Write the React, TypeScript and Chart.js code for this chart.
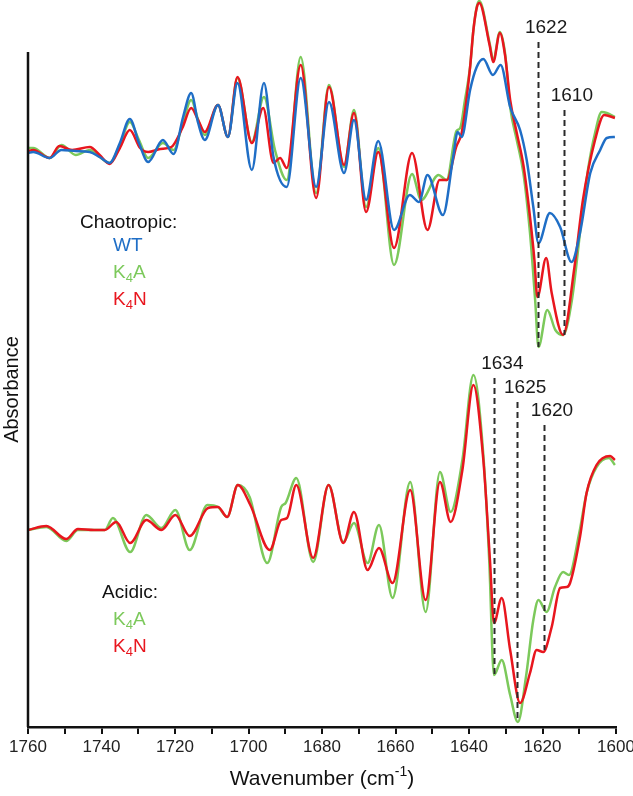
import React, { useEffect, useRef } from "react";
import { Chart, registerables } from "chart.js";

Chart.register(...registerables);

// ---------- Chaotropic (upper spectra) ----------
const wtWn = [1760, 1758.6, 1754.1, 1750.9, 1747, 1743.2, 1740.5, 1737.8, 1735, 1732.3, 1729.8, 1727.3, 1723.3, 1720.4, 1717.8, 1715.6, 1713.7, 1711.9, 1708.3, 1705.6, 1703, 1699.1, 1695.8, 1693.2, 1689.6, 1685.8, 1681.6, 1678.1, 1674, 1671.3, 1668, 1664.7, 1660.4, 1656.1, 1653.6, 1651.3, 1647.1, 1644.3, 1643.1, 1642, 1639.7, 1637.9, 1636.1, 1633.5, 1631.4, 1628.8, 1626.1, 1624.3, 1622.5, 1621.1, 1618, 1615.2, 1612.1, 1609.8, 1607, 1604.3, 1602.5, 1600.3];
const wtAbs = [574, 575, 569, 577, 576, 575, 570, 564, 584, 608, 584, 565, 587, 573, 610, 634, 604, 587, 622, 590, 644, 557, 644, 570, 540, 649, 540, 625, 554, 607, 527, 586, 497, 532, 525, 552, 512, 570, 595, 590, 637, 660, 668, 652, 662, 620, 597, 567, 520, 484, 514, 500, 465, 494, 554, 577, 589, 590];

const chaoK4AWn = [1760, 1758.6, 1754.1, 1750.9, 1747, 1743.2, 1740.5, 1737.8, 1735, 1732.3, 1729.8, 1727.3, 1723.3, 1720.4, 1717.8, 1715.6, 1713.7, 1711.9, 1708.3, 1705.6, 1703, 1699.1, 1695.8, 1692.8, 1689.6, 1685.8, 1681.6, 1678.1, 1674, 1671.3, 1668, 1664.7, 1660.4, 1655.5, 1653, 1648.3, 1646.1, 1643.4, 1642.4, 1641.1, 1639.7, 1638.8, 1637.9, 1637.2, 1634.4, 1633.4, 1631.6, 1630.2, 1628.8, 1627, 1625.2, 1623.4, 1622, 1621.1, 1618.7, 1616.5, 1614.4, 1612, 1609.3, 1607.5, 1605.7, 1603.9, 1602.5, 1600.3];
const chaoK4AAbs = [579, 579, 569, 582, 572, 577, 570, 564, 582, 605, 587, 569, 584, 577, 605, 627, 607, 592, 622, 590, 649, 585, 630, 577, 547, 670, 534, 642, 560, 617, 520, 579, 462, 553, 527, 552, 547, 596, 599, 627, 660, 697, 720, 726, 684, 667, 695, 674, 620, 587, 554, 494, 427, 380, 417, 397, 392, 427, 510, 560, 594, 615, 614, 610];

const chaoK4NWn = [1760, 1758.6, 1754.1, 1751.5, 1748, 1743.2, 1740.5, 1737.8, 1735, 1732.3, 1729.5, 1727.3, 1724, 1721, 1718, 1715.6, 1713.7, 1711.9, 1708.3, 1705.6, 1703, 1699.1, 1696, 1693.2, 1691.4, 1689.6, 1685.8, 1681.6, 1678.1, 1674, 1671.3, 1668, 1664.7, 1660.4, 1655.5, 1651.3, 1648, 1646, 1643.5, 1642, 1640.7, 1639.7, 1638.8, 1637.9, 1637.2, 1634.4, 1633.4, 1631.6, 1630.2, 1628.8, 1627, 1625.2, 1623.4, 1622.2, 1621.4, 1619, 1617.5, 1614.4, 1611.3, 1609, 1605.7, 1603.2, 1600.3];
const chaoK4NAbs = [576, 577, 569, 581, 577, 580, 572, 563, 579, 597, 579, 575, 578, 580, 599, 619, 607, 595, 622, 590, 650, 584, 619, 564, 569, 559, 662, 529, 640, 562, 614, 515, 575, 479, 574, 497, 547, 547, 580, 594, 627, 660, 697, 719, 724, 682, 665, 694, 672, 627, 594, 562, 510, 467, 430, 469, 434, 392, 460, 527, 587, 612, 609];

// ---------- Acidic (lower spectra) ----------
const acidK4AWn = [1760, 1755, 1749.6, 1746.4, 1739.1, 1736.9, 1732.2, 1727.8, 1723.7, 1719.9, 1716, 1711.2, 1708.3, 1705.8, 1702.9, 1699.7, 1694.9, 1691.1, 1689.9, 1687, 1682.4, 1678.2, 1674.2, 1671.3, 1667.6, 1664.5, 1660.8, 1656, 1651.8, 1647.9, 1645, 1641.8, 1638.8, 1636.1, 1634.5, 1633.2, 1631.1, 1628.8, 1626.7, 1624.5, 1622.5, 1621.1, 1618.9, 1616.6, 1614.4, 1612.8, 1610, 1608, 1605.3, 1601.9, 1600.3];
const acidK4AAbs = [197, 200, 186, 197, 197, 209, 175, 212, 199, 217, 177, 222, 220, 210, 242, 230, 164, 220, 224, 249, 165, 242, 185, 204, 164, 202, 129, 245, 115, 255, 215, 267, 352, 272, 167, 52, 67, 32, 5, 50, 107, 127, 115, 140, 155, 152, 194, 234, 260, 269, 262];

const acidK4NWn = [1760, 1755, 1749.6, 1746.4, 1742, 1739.1, 1736, 1732.2, 1727.8, 1723.7, 1719.9, 1716, 1711, 1708.3, 1705.8, 1702.9, 1699.5, 1694.2, 1691.1, 1689.5, 1687, 1682.4, 1678.2, 1674.2, 1671.3, 1667.6, 1664.5, 1660.8, 1656, 1651.8, 1647.9, 1645, 1641.8, 1638.8, 1636.1, 1634.3, 1633.2, 1631.1, 1628.8, 1626.1, 1623.4, 1621.6, 1619.8, 1617.5, 1615.2, 1613.4, 1612.5, 1609.8, 1608, 1605.3, 1601.6, 1600.3];
const acidK4NAbs = [197, 201, 188, 198, 197, 197, 205, 184, 207, 197, 212, 191, 219, 220, 210, 242, 222, 177, 207, 209, 242, 169, 242, 184, 215, 157, 179, 144, 237, 127, 245, 205, 257, 342, 267, 167, 104, 129, 77, 24, 54, 77, 75, 100, 139, 140, 144, 190, 234, 262, 271, 267];

// ---------- Axis / annotations ----------
const xTickValues = [1760, 1750, 1740, 1730, 1720, 1710, 1700, 1690, 1680, 1670, 1660, 1650, 1640, 1630, 1620, 1610, 1600];
const xLabelValues = [1760, 1740, 1720, 1700, 1680, 1660, 1640, 1620, 1600];

const markerLabels = ["1622", "1610", "1634", "1625", "1620"];
const markerWn = [1621.2, 1614.2, 1633.1, 1626.9, 1619.6];
const markerTop = [685, 617, 349, 325, 302];
const markerBottom = [380, 392, 52, 5, 77];

const chaoLegendTitle = "Chaotropic:";
const chaoLegendNames = ["WT", "K_4A", "K_4N"];
const acidLegendTitle = "Acidic:";
const acidLegendNames = ["K_4A", "K_4N"];

const BLUE = "#1f6ec6";
const GREEN = "#7cc95b";
const RED = "#e8161e";
const FONT = "'Liberation Sans', Arial, sans-serif";

const pts = (wn: number[], ab: number[]) => wn.map((x, i) => ({ x, y: ab[i] }));

function drawSubText(ctx: CanvasRenderingContext2D, text: string, x: number, y: number, size: number, color: string) {
  ctx.save();
  ctx.fillStyle = color;
  ctx.textBaseline = "middle";
  ctx.textAlign = "left";
  let cx = x;
  for (let i = 0; i < text.length; i++) {
    const ch = text[i];
    if (ch === "_" && i + 1 < text.length) {
      const sub = text[i + 1];
      ctx.font = `${Math.round(size * 0.68)}px ${FONT}`;
      ctx.fillText(sub, cx, y + size * 0.3);
      cx += ctx.measureText(sub).width;
      i++;
    } else {
      ctx.font = `${size}px ${FONT}`;
      ctx.fillText(ch, cx, y);
      cx += ctx.measureText(ch).width;
    }
  }
  ctx.restore();
}

const annotationPlugin = {
  id: "ftirAnnotations",
  afterDatasetsDraw(chart: any) {
    const { ctx, chartArea, scales } = chart;
    const xs = scales.x;
    const ys = scales.y;
    // dashed marker lines
    ctx.save();
    ctx.strokeStyle = "#2a2a2a";
    ctx.lineWidth = 2;
    ctx.setLineDash([6, 4]);
    markerWn.forEach((wn, i) => {
      const px = Math.round(xs.getPixelForValue(wn)) + 0.5;
      ctx.beginPath();
      ctx.moveTo(px, ys.getPixelForValue(markerTop[i]));
      ctx.lineTo(px, ys.getPixelForValue(markerBottom[i]));
      ctx.stroke();
    });
    ctx.setLineDash([]);
    ctx.fillStyle = "#1a1a1a";
    ctx.font = `19px ${FONT}`;
    ctx.textAlign = "center";
    ctx.textBaseline = "middle";
    markerWn.forEach((wn, i) => {
      const px = xs.getPixelForValue(wn);
      ctx.fillText(markerLabels[i], px + 8, ys.getPixelForValue(markerTop[i]) - 14);
    });
    ctx.restore();

    // legend texts
    ctx.save();
    ctx.fillStyle = "#111";
    ctx.font = `19px ${FONT}`;
    ctx.textAlign = "left";
    ctx.textBaseline = "middle";
    ctx.fillText(chaoLegendTitle, 80, 223);
    ctx.fillText(acidLegendTitle, 102, 593);
    ctx.restore();
    const chaoColors = [BLUE, GREEN, RED];
    chaoLegendNames.forEach((n, i) => drawSubText(ctx, n, 113, 246 + i * 27, 19, chaoColors[i]));
    const acidColors = [GREEN, RED];
    acidLegendNames.forEach((n, i) => drawSubText(ctx, n, 113, 620 + i * 27, 19, acidColors[i]));

    // y axis line
    ctx.save();
    ctx.strokeStyle = "#111";
    ctx.lineWidth = 2.5;
    ctx.beginPath();
    ctx.moveTo(chartArea.left, chartArea.top);
    ctx.lineTo(chartArea.left, chartArea.bottom);
    ctx.stroke();
    ctx.restore();

    // y title
    ctx.save();
    ctx.fillStyle = "#111";
    ctx.font = `20px ${FONT}`;
    ctx.textAlign = "center";
    ctx.textBaseline = "middle";
    ctx.translate(12, (chartArea.top + chartArea.bottom) / 2);
    ctx.rotate(-Math.PI / 2);
    ctx.fillText("Absorbance", 0, 0);
    ctx.restore();

    // x title with superscript
    ctx.save();
    ctx.fillStyle = "#111";
    ctx.textBaseline = "middle";
    ctx.textAlign = "left";
    const main = "Wavenumber (cm";
    const sup = "-1";
    const close = ")";
    const big = `21px ${FONT}`;
    const small = `14px ${FONT}`;
    ctx.font = big;
    const w1 = ctx.measureText(main).width;
    const w3 = ctx.measureText(close).width;
    ctx.font = small;
    const w2 = ctx.measureText(sup).width;
    const total = w1 + w2 + w3;
    let sx = (chartArea.left + chartArea.right) / 2 - total / 2;
    const ty = 779;
    ctx.font = big;
    ctx.fillText(main, sx, ty);
    sx += w1;
    ctx.font = small;
    ctx.fillText(sup, sx, ty - 7);
    sx += w2;
    ctx.font = big;
    ctx.fillText(close, sx, ty);
    ctx.restore();
  },
};

export default function App() {
  const canvasRef = useRef<HTMLCanvasElement | null>(null);

  useEffect(() => {
    document.body.style.margin = "0";
    const canvas = canvasRef.current;
    if (!canvas) return;
    const line = (data: any[], color: string, order: number) => ({
      data,
      borderColor: color,
      backgroundColor: color,
      borderWidth: 2.5,
      pointRadius: 0,
      tension: 0.4,
      cubicInterpolationMode: "monotone" as const,
      fill: false,
      clip: false as const,
      order,
    });
    const chart = new Chart(canvas, {
      type: "line",
      data: {
        datasets: [
          line(pts(chaoK4AWn, chaoK4AAbs), GREEN, 3),
          line(pts(chaoK4NWn, chaoK4NAbs), RED, 2),
          line(pts(wtWn, wtAbs), BLUE, 1),
          line(pts(acidK4AWn, acidK4AAbs), GREEN, 5),
          line(pts(acidK4NWn, acidK4NAbs), RED, 4),
        ] as any,
      },
      options: {
        animation: false,
        responsive: false,
        devicePixelRatio: 1,
        parsing: false as any,
        normalized: true,
        layout: { padding: { left: 28, right: 17, top: 52, bottom: 0 } },
        plugins: { legend: { display: false }, tooltip: { enabled: false } },
        events: [],
        scales: {
          x: {
            type: "linear",
            reverse: true,
            min: 1600,
            max: 1760,
            afterBuildTicks: (s: any) => {
              s.ticks = xTickValues.map((v) => ({ value: v }));
            },
            afterFit: (s: any) => {
              s.height = 69;
              s.paddingLeft = 0;
              s.paddingRight = 0;
            },
            ticks: {
              autoSkip: false,
              maxRotation: 0,
              padding: 3,
              color: "#222",
              font: { family: FONT, size: 17 },
              callback: (v: any) => (xLabelValues.includes(Number(v)) ? String(v) : ""),
            },
            grid: {
              display: true,
              drawOnChartArea: false,
              drawTicks: true,
              tickLength: 7,
              color: "#111",
              lineWidth: 2,
            },
            border: { display: true, color: "#111", width: 2.5 },
          },
          y: {
            type: "linear",
            display: false,
            min: 0,
            max: 675,
          },
        },
      },
      plugins: [annotationPlugin],
    });
    return () => chart.destroy();
  }, []);

  return (
    <div style={{ position: "absolute", left: 0, top: 0, width: 633, height: 796, background: "#fff" }}>
      <canvas ref={canvasRef} width={633} height={796} />
    </div>
  );
}
